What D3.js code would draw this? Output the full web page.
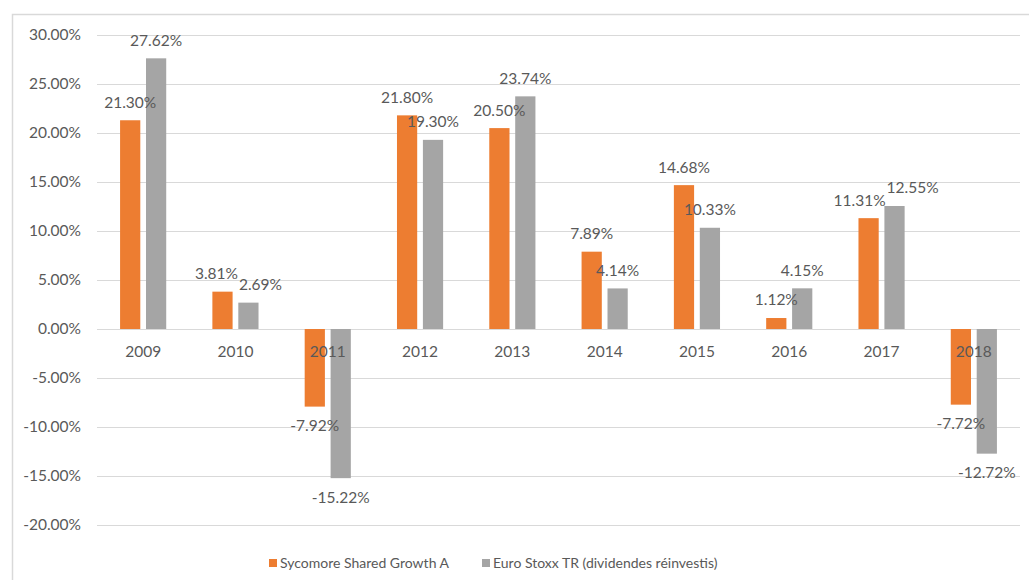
<!DOCTYPE html>
<html>
<head>
<meta charset="utf-8">
<script src="https://cdn.jsdelivr.net/npm/d3@7"></script>
<style>
  body { margin: 0; background: #fff; }
  svg text { font-family: Lato, "Open Sans", sans-serif; fill: #595959; }
</style>
</head>
<body>
<div id="container"></div>
<script>
// data
const years = ["2009", "2010", "2011", "2012", "2013", "2014", "2015", "2016", "2017", "2018"];
const seriesNames = ["Sycomore Shared Growth A", "Euro Stoxx TR (dividendes réinvestis)"];
const fundValues = [21.30, 3.81, -7.92, 21.80, 20.50, 7.89, 14.68, 1.12, 11.31, -7.72];
const indexValues = [27.62, 2.69, -15.22, 19.30, 23.74, 4.14, 10.33, 4.15, 12.55, -12.72];
const yTicks = [-20, -15, -10, -5, 0, 5, 10, 15, 20, 25, 30];
const colors = ["#ED7D31", "#A5A5A5"];

let w = 1029;
let h = 580;
let fontSize = 15.5;

// one row per year, both series in it
let rows = years.map((y, i) => ({year: y, values: [fundValues[i], indexValues[i]]}));

let viz = d3.select("#container")
    .append("svg")
    .attr("width", w)
    .attr("height", h)
;

// chart frame (right and bottom edges run off the picture)
viz.append("rect")
    .attr("x", 12.5)
    .attr("y", 14.5)
    .attr("width", w + 20)
    .attr("height", h + 20)
    .attr("fill", "none")
    .attr("stroke", "#d9d9d9")
    .attr("stroke-width", 1.5)
;

let plotLeft = 97;
let plotRight = 1020;

let yScale = d3.scaleLinear().domain([-20, 30]).range([525, 35]);

let xScale = d3.scaleBand()
    .domain(years)
    .range([plotLeft, plotRight])
    .padding(0)
;

let xInner = d3.scaleBand()
    .domain([0, 1])
    .range([xScale.bandwidth() * 0.25, xScale.bandwidth() * 0.75])
    .paddingInner(0.22)
;

// gridlines + y labels
let yAxis = d3.axisLeft(yScale)
    .tickValues(yTicks)
    .tickSize(-(plotRight - plotLeft))
    .tickPadding(16)
    .tickFormat(d => d.toFixed(2) + "%");

let yAxisGroup = viz.append("g")
    .attr("transform", `translate(${plotLeft},0)`)
    .call(yAxis);
yAxisGroup.select(".domain").remove();
yAxisGroup.selectAll("line").attr("stroke", "#d9d9d9").attr("stroke-width", 1);
yAxisGroup.selectAll("text")
    .attr("font-size", fontSize)
    .attr("fill", "#595959")
    .style("font-family", "Lato, \"Open Sans\", sans-serif");

// bars
let groups = viz.append("g").selectAll(".year")
    .data(rows)
    .enter()
    .append("g")
    .classed("year", true)
    .attr("transform", d => `translate(${xScale(d.year)},0)`);

groups.selectAll("rect")
    .data(d => d.values.map((v, k) => ({v: v, k: k})))
    .enter()
    .append("rect")
    .attr("x", d => xInner(d.k))
    .attr("width", xInner.bandwidth())
    .attr("y", d => yScale(Math.max(0, d.v)))
    .attr("height", d => Math.abs(yScale(d.v) - yScale(0)))
    .attr("fill", d => colors[d.k])
;

// category labels sit on top of the bars (like excel)
groups.append("text")
    .attr("x", xScale.bandwidth() / 2)
    .attr("y", yScale(0) + 23)
    .attr("dy", "0.35em")
    .attr("text-anchor", "middle")
    .attr("font-size", fontSize)
    .text(d => d.year);

// value labels, outside end
let labels = groups.selectAll(".vlabel")
    .data(d => d.values.map((v, k) => ({v: v, k: k})))
    .enter()
    .append("text")
    .classed("vlabel", true)
    .attr("x", d => xInner(d.k) + xInner.bandwidth() / 2)
    .attr("y", d => d.v >= 0 ? yScale(d.v) - 18 : yScale(d.v) + 19)
    .attr("dy", "0.35em")
    .attr("text-anchor", "middle")
    .attr("font-size", fontSize)
    .text(d => d.v.toFixed(2) + "%");

// if the two labels of a year collide, push them sideways apart
groups.each(function () {
    let pair = d3.select(this).selectAll(".vlabel").nodes();
    let a = pair[0], b = pair[1];
    let ya = +a.getAttribute("y"), yb = +b.getAttribute("y");
    if (Math.abs(ya - yb) >= fontSize + 1) return;
    let xa = +a.getAttribute("x"), xb = +b.getAttribute("x");
    let need = (a.getComputedTextLength() + b.getComputedTextLength()) / 2 + 1;
    let gap = xb - xa;
    if (gap >= need) return;
    let shift = need - gap;
    a.setAttribute("x", xa - shift / 3);
    b.setAttribute("x", xb + shift * 2 / 3);
});

// legend
let legendX = [269, 482];
let legend = viz.append("g").selectAll(".leg")
    .data(seriesNames)
    .enter()
    .append("g")
    .attr("transform", (d, i) => `translate(${legendX[i]},563)`);
legend.append("rect")
    .attr("x", 0)
    .attr("y", -4)
    .attr("width", 8)
    .attr("height", 8)
    .attr("fill", (d, i) => colors[i]);
legend.append("text")
    .attr("x", 11)
    .attr("dy", "0.35em")
    .attr("font-size", 14)
    .text(d => d);
</script>
</body>
</html>
